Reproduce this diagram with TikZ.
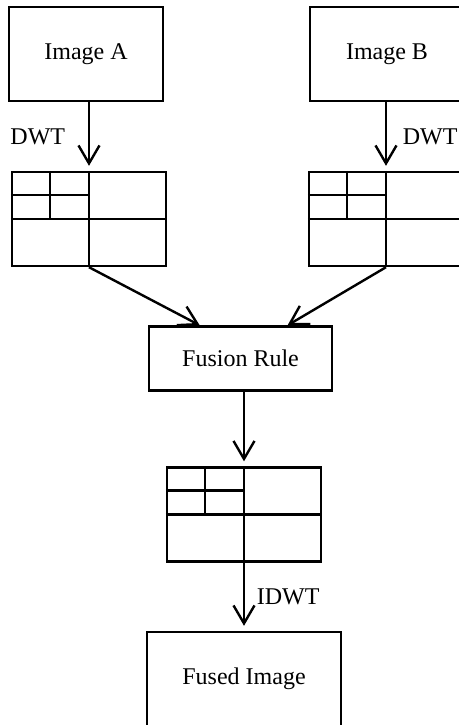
\documentclass[tikz,border=0pt]{standalone}
\usepackage{fontspec}
\setmainfont{Liberation Serif}
\usetikzlibrary{arrows.meta, positioning, calc}

% two-level wavelet layout drawn inside a coefficient node
\newcommand{\subbands}[1]{%
    \draw (#1.north) -- (#1.south);
    \draw (#1.west) -- (#1.east);
    \draw ($(#1.north west)!0.5!(#1.north)$) -- ($(#1.west)!0.5!(#1.center)$);
    \draw ($(#1.north west)!0.5!(#1.west)$) -- ($(#1.north)!0.5!(#1.center)$);
}

\begin{document}
\begin{tikzpicture}[
    x=0.5pt, y=-0.5pt,
    line width=1.2pt,
    font=\fontsize{12}{14}\selectfont,
    block/.style={draw, rectangle, inner sep=0pt, minimum width=77pt, minimum height=47pt},
    coeffs/.style={draw, rectangle, inner sep=0pt, minimum width=77pt, minimum height=47pt},
    flow/.style={-{Straight Barb[length=9pt, width=10.5pt]}},
    gap/.style={shorten >=2.5pt}
]
    \useasboundingbox (0,0) rectangle (459,725);

    \node[block] (imgA) at (86,54) {Image A};
    \node[block] (imgB) at (387,54) {Image B};
    \node[coeffs] (dwtA) at (89,219) {};
    \node[coeffs] (dwtB) at (386,219) {};
    \node[block, minimum width=91.5pt, minimum height=32pt] (fusion) at (240.5,358.5) {Fusion Rule};
    \node[coeffs] (dwtF) at (244,514.5) {};
    \node[block, minimum width=97pt] (fused) at (244,679) {Fused Image};

    \subbands{dwtA}
    \subbands{dwtB}
    \subbands{dwtF}

    % decomposition
    \draw[flow, gap] (dwtA.north |- imgA.south) -- node[left=8pt] {DWT} (dwtA.north);
    \draw[flow, gap] (dwtB.north |- imgB.south) -- node[right=4.5pt] {DWT} (dwtB.north);

    % fusion and reconstruction
    \draw[flow] (dwtA.south) -- ($(fusion.north west)!0.28!(fusion.north east)$);
    \draw[flow] (dwtB.south) -- ($(fusion.north west)!0.754!(fusion.north east)$);
    \draw[flow, gap] (dwtF.north |- fusion.south) -- (dwtF.north);
    \draw[flow, gap] (dwtF.south) -- node[right=2.5pt] {IDWT} (fused.north);
\end{tikzpicture}
\end{document}
